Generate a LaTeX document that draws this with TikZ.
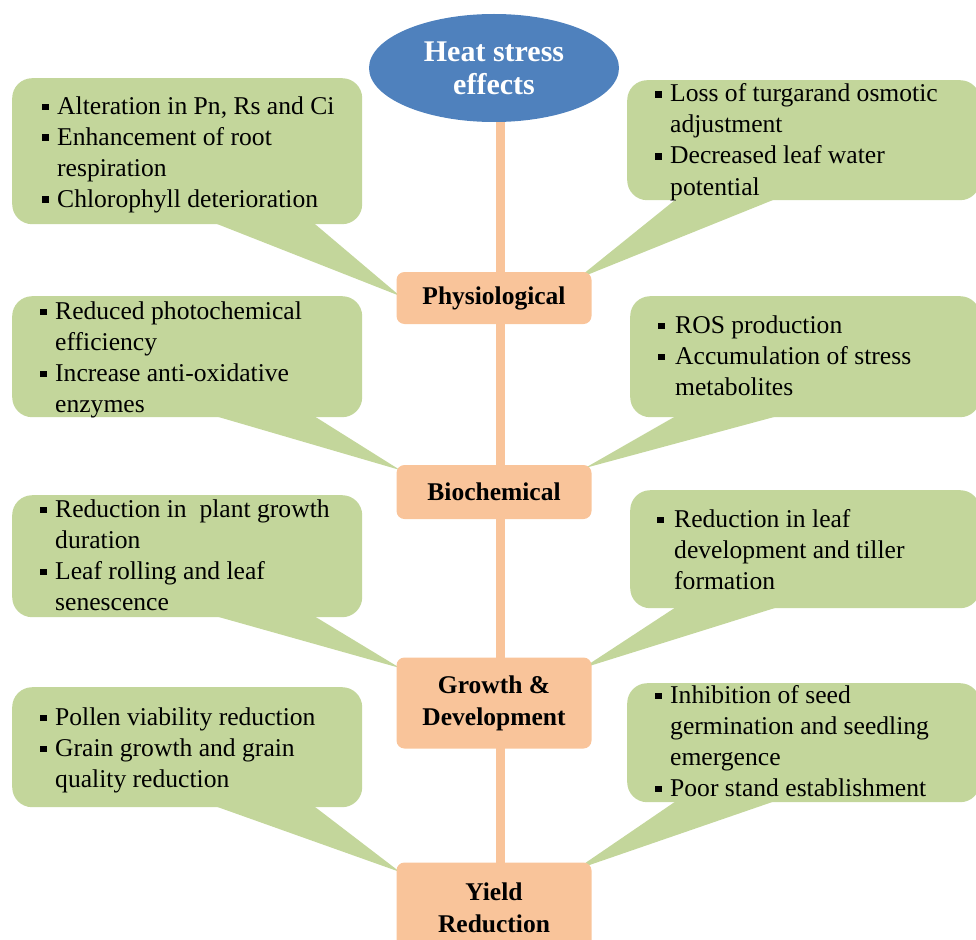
\documentclass[tikz,border=0pt]{standalone}
\usepackage{fontspec}
\setmainfont{Liberation Serif}
\usetikzlibrary{shapes.geometric,calc}
\pgfdeclarelayer{background}
\pgfsetlayers{background,main}
\definecolor{leaf}{HTML}{C3D69B}
\definecolor{peach}{HTML}{F9C49A}
\definecolor{sky}{HTML}{4F81BD}
\newcommand{\bul}{\makebox[15pt][l]{\raisebox{4pt}{\rule{6.5pt}{6.5pt}}}}
\newcommand{\bulR}{\makebox[17pt][l]{\raisebox{4pt}{\rule{6.5pt}{6.5pt}}}}
\tikzset{
  callout/.style={fill=leaf, rounded corners=20pt, anchor=north west, inner sep=0pt},
  stagebox/.style={fill=peach, rounded corners=8pt, minimum width=195pt, inner sep=0pt,
    align=center, font=\fontsize{25.5}{32}\selectfont\bfseries},
  trunk/.style={draw=peach, line width=9pt},
  bullets/.style={anchor=base west, inner sep=0pt, font=\fontsize{25.6}{31}\selectfont, text=black},
}
\begin{document}
\begin{tikzpicture}[x=1pt,y=-1pt]
\useasboundingbox (0,0) rectangle (976,939);
\clip (0,0) rectangle (976,939);

% central title
\node[ellipse, fill=sky, minimum width=250pt, minimum height=108pt, inner sep=0pt,
  align=center, text=white, font=\fontsize{30}{33}\selectfont\bfseries] (heat) at (494,68) {Heat stress\\effects};

% stage boxes
\node[stagebox, minimum height=52pt] (phys) at (494,298) {Physiological};
\node[stagebox, minimum height=54pt] (bio) at (494,492) {Biochemical};
\node[stagebox, minimum height=91pt] (grow) at (494,703) {Growth \&\\Development};
\node[stagebox, minimum height=91pt] (yield) at (494,908) {Yield\\Reduction};

% callout bodies
\node[callout, minimum width=350pt, minimum height=146pt] (c1) at (12,78) {};
\node[callout, minimum width=353pt, minimum height=120pt] (c2) at (627,80) {};
\node[callout, minimum width=350pt, minimum height=121pt] (c3) at (12,296) {};
\node[callout, minimum width=350pt, minimum height=121pt] (c4) at (630,296) {};
\node[callout, minimum width=350pt, minimum height=122pt] (c5) at (12,495) {};
\node[callout, minimum width=350pt, minimum height=118pt] (c6) at (630,490) {};
\node[callout, minimum width=350pt, minimum height=120pt] (c7) at (12,687) {};
\node[callout, minimum width=353pt, minimum height=119pt] (c8) at (627,683) {};

% tail tips
\coordinate (t1) at (400,296);
\coordinate (t2) at (577,279);
\coordinate (t3) at (400,470);
\coordinate (t4) at (585,468);
\coordinate (t5) at (400,668);
\coordinate (t6) at (583,668);
\coordinate (t7) at (400,872);
\coordinate (t8) at (575,870);

% texts
\node[bullets] (c1t) at (42,114) {\begin{tabular}[t]{@{}l@{}l@{}}
\bul & Alteration in Pn, Rs and Ci\\
\bul & Enhancement of root\\
 & respiration\\
\bul & Chlorophyll deterioration
\end{tabular}};
\node[bullets] (c2t) at (655,102) {\begin{tabular}[t]{@{}l@{}l@{}}
\bul & Loss of turgarand osmotic\\
 & adjustment\\
\bul & Decreased leaf water\\
 & potential
\end{tabular}};
\node[bullets] (c3t) at (40,319) {\begin{tabular}[t]{@{}l@{}l@{}}
\bul & Reduced photochemical\\
 & efficiency\\
\bul & Increase anti-oxidative\\
 & enzymes
\end{tabular}};
\node[bullets] (c4t) at (658,333) {\begin{tabular}[t]{@{}l@{}l@{}}
\bulR & ROS production\\
\bulR & Accumulation of stress\\
 & metabolites
\end{tabular}};
\node[bullets] (c5t) at (40,517) {\begin{tabular}[t]{@{}l@{}l@{}}
\bul & Reduction in\ \ plant growth\\
 & duration\\
\bul & Leaf rolling and leaf\\
 & senescence
\end{tabular}};
\node[bullets] (c6t) at (657,527) {\begin{tabular}[t]{@{}l@{}l@{}}
\bulR & Reduction in leaf\\
 & development and tiller\\
 & formation
\end{tabular}};
\node[bullets] (c7t) at (40,725) {\begin{tabular}[t]{@{}l@{}l@{}}
\bul & Pollen viability reduction\\
\bul & Grain growth and grain\\
 & quality reduction
\end{tabular}};
\node[bullets] (c8t) at (655,703) {\begin{tabular}[t]{@{}l@{}l@{}}
\bul & Inhibition of seed\\
 & germination and seedling\\
 & emergence\\
\bul & Poor stand establishment
\end{tabular}};

\begin{pgfonlayer}{background}
  \draw[trunk] ([xshift=6pt]heat.center) -- ([xshift=6pt]yield.center);
  \fill[leaf] ($(c1.south west)+(201,-2)$) -- (t1) -- ($(c1.south west)+(301,-2)$) -- cycle;
  \fill[leaf] ($(c2.south west)+(50,-2)$) -- (t2) -- ($(c2.south west)+(150,-2)$) -- cycle;
  \fill[leaf] ($(c3.south west)+(201,-2)$) -- (t3) -- ($(c3.south west)+(301,-2)$) -- cycle;
  \fill[leaf] ($(c4.south west)+(47,-2)$) -- (t4) -- ($(c4.south west)+(150,-2)$) -- cycle;
  \fill[leaf] ($(c5.south west)+(201,-2)$) -- (t5) -- ($(c5.south west)+(301,-2)$) -- cycle;
  \fill[leaf] ($(c6.south west)+(47,-2)$) -- (t6) -- ($(c6.south west)+(150,-2)$) -- cycle;
  \fill[leaf] ($(c7.south west)+(201,-2)$) -- (t7) -- ($(c7.south west)+(301,-2)$) -- cycle;
  \fill[leaf] ($(c8.south west)+(50,-2)$) -- (t8) -- ($(c8.south west)+(150,-2)$) -- cycle;
\end{pgfonlayer}
\end{tikzpicture}
\end{document}
